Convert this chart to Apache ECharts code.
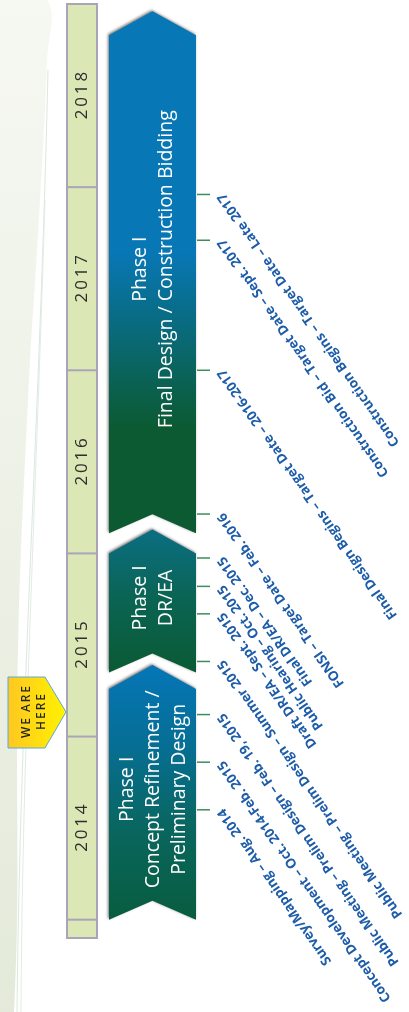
<!DOCTYPE html>
<html><head><meta charset="utf-8">
<script src="https://cdn.jsdelivr.net/npm/echarts@6/dist/echarts.min.js"></script>
<style>html,body{margin:0;padding:0;background:#fff}#c{width:409px;height:1012px}</style>
</head><body><div id="c"></div>
<script>
// ---- data ----
const years = [2014, 2015, 2016, 2017, 2018];
const yearLabels = ['2014', '2015', '2016', '2017', '2018'];
const axisMin = 2013.9, axisMax = 2019;

const phaseNames = [
  'Phase I\nConcept Refinement /\nPreliminary Design',
  'Phase I\nDR/EA',
  'Phase I\nFinal Design / Construction Bidding'
];
const phaseStarts = [2014.0, 2015.35, 2016.11];
const phaseEnds = [2015.26, 2016.0, 2018.83];

const milestoneDates = [2014.60, 2014.86, 2015.12, 2015.41, 2015.67, 2015.82, 2015.975, 2016.215, 2017.0, 2017.71, 2017.96];
const milestoneLabels = [
  'Survey/Mapping – Aug. 2014',
  'Concept Development – Oct. 2014-Feb. 2015',
  'Public Meeting – Prelim Design – Feb. 19, 2015',
  'Public Meeting – Prelim Design – Summer 2015',
  'Draft DR/EA – Sept. 2015',
  'Public Hearing – Oct. 2015',
  'Final DR/EA – Dec. 2015',
  'FONSI – Target Date – Feb. 2016',
  'Final Design Begins – Target Date – 2016-2017',
  'Construction Bid – Target Date – Sept. 2017',
  'Construction Begins – Target Date – Late 2017'
];

const nowDate = 2015.134;
const nowLabel = 'WE ARE\nHERE';

// ---- layout / style ----
const COL_L = 67, COL_R = 97;
const PH_L = 109, PH_R = 196, TIP = 24, NOTCH = 19;
const phaseGradients = [
  [[0, '#0576b8'], [0.3, '#066f96'], [0.65, '#09665e'], [1, '#085d3e']],
  [[0, '#0b6e82'], [0.5, '#0a6452'], [1, '#0a5a34']],
  [[0, '#0877b6'], [0.46, '#0877b6'], [0.8, '#0b5a31'], [1, '#0b5a31']]
];

const chart = echarts.init(document.getElementById('c'), null, {renderer: 'canvas'});

function spaced(s) { return s.split('').join('\u2009'); }

const option = {
  animation: false,
  backgroundColor: '#ffffff',
  grid: {left: 0, right: 0, top: 4, bottom: 74},
  xAxis: {type: 'value', min: 0, max: 409, show: false},
  yAxis: {type: 'value', min: axisMin, max: axisMax, show: false},
  graphic: [
    {
      type: 'polygon', z: -10, silent: true,
      shape: {points: [[0,0],[47,0],[47,60],[40,200],[28,400],[18,650],[14,1012],[0,1012]], smooth: 0.4},
      style: {fill: new echarts.graphic.LinearGradient(0,0,0,1,[{offset:0,color:'#f6f8f2'},{offset:1,color:'#e4eada'}])}
    },
    {
      type: 'bezierCurve', z: -9, silent: true,
      shape: {x1: 48, y1: 70, cpx1: 40, cpy1: 420, cpx2: 20, cpy2: 700, x2: 17, y2: 1012},
      style: {stroke: '#dce8de', lineWidth: 1, fill: null}
    },
    {
      type: 'bezierCurve', z: -9, silent: true,
      shape: {x1: 45, y1: 200, cpx1: 36, cpy1: 500, cpx2: 22, cpy2: 760, x2: 21, y2: 1012},
      style: {stroke: '#e2ece3', lineWidth: 1, fill: null}
    }
  ],
  series: [
    {
      type: 'custom', name: 'years', z: 1,
      data: years.map(y => [y]),
      renderItem: function (params, api) {
        const y = api.value(0);
        const children = [];
        if (params.dataIndex === 0) {
          const top = api.coord([COL_L, axisMax]);
          const bot = api.coord([COL_R, axisMin]);
          children.push({
            type: 'rect',
            shape: {x: top[0], y: top[1], width: bot[0] - top[0], height: bot[1] - top[1]},
            style: {fill: '#dbe7b5', stroke: '#aaa4bb', lineWidth: 2}
          });
        }
        const a = api.coord([COL_L, y]);
        const b = api.coord([COL_R, y]);
        children.push({type: 'line', shape: {x1: a[0], y1: a[1], x2: b[0], y2: b[1]}, style: {stroke: '#aaa4bb', lineWidth: 2}});
        const m = api.coord([(COL_L + COL_R) / 2, y + 0.5]);
        children.push({
          type: 'text', x: m[0], y: m[1], rotation: Math.PI / 2,
          style: {text: spaced(yearLabels[params.dataIndex]), align: 'center', verticalAlign: 'middle',
            fill: '#2e2e2e', font: '17px "Open Sans"'}
        });
        return {type: 'group', children: children};
      }
    },
    {
      type: 'custom', name: 'phases', z: 2,
      data: phaseStarts.map((s, i) => [s, phaseEnds[i]]),
      renderItem: function (params, api) {
        const i = params.dataIndex;
        const s = api.coord([PH_L, api.value(0)]);
        const e = api.coord([PH_R, api.value(1)]);
        const x0 = s[0], x1 = e[0], cx = (x0 + x1) / 2;
        const ys = s[1], ye = e[1];
        const pts = [[x0, ys], [cx, ys - NOTCH], [x1, ys], [x1, ye], [cx, ye - TIP], [x0, ye]];
        const stops = phaseGradients[i].map(st => ({offset: st[0], color: st[1]}));
        return {
          type: 'group',
          children: [
            {
              type: 'polygon', shape: {points: pts},
              style: {fill: new echarts.graphic.LinearGradient(0, 0, 0, 1, stops),
                shadowColor: 'rgba(0,0,0,0.55)', shadowBlur: 3, shadowOffsetX: -1, shadowOffsetY: -1}
            },
            {
              type: 'text', x: cx + 1, y: (ys + ye - TIP) / 2 - 3, rotation: Math.PI / 2,
              style: {text: phaseNames[i], align: 'center', verticalAlign: 'middle',
                fill: '#ffffff', font: '500 19.5px "Open Sans"', lineHeight: 26}
            }
          ]
        };
      }
    },
    {
      type: 'custom', name: 'milestones', z: 3,
      data: milestoneDates.map(d => [d]),
      renderItem: function (params, api) {
        const a = api.coord([197, api.value(0)]);
        const b = api.coord([210, api.value(0)]);
        return {
          type: 'group',
          children: [
            {type: 'line', shape: {x1: a[0], y1: a[1], x2: b[0], y2: b[1]}, style: {stroke: '#3a8f5c', lineWidth: 1.5}},
            {
              type: 'text', x: b[0] + 11, y: b[1], rotation: 125 * Math.PI / 180,
              style: {text: milestoneLabels[params.dataIndex], align: 'right', verticalAlign: 'middle',
                fill: '#1c5ca9', font: 'bold 13.5px "Open Sans"'}
            }
          ]
        };
      }
    },
    {
      type: 'custom', name: 'now', z: 4,
      data: [[nowDate]],
      renderItem: function (params, api) {
        const p = api.coord([66, api.value(0)]);
        const tipX = p[0], y = p[1];
        const pts = [[8, y - 35], [45, y - 35], [tipX, y], [45, y + 36], [8, y + 36]];
        return {
          type: 'group',
          children: [
            {
              type: 'polygon', shape: {points: pts},
              style: {fill: new echarts.graphic.LinearGradient(0, 0, 1, 0, [{offset: 0, color: '#ffc722'}, {offset: 1, color: '#fff200'}]),
                stroke: '#5ba8d8', lineWidth: 1}
            },
            {
              type: 'text', x: 34, y: y, rotation: Math.PI / 2,
              style: {text: 'W\u2009E\u2002A\u2009R\u2009E\nH\u2009E\u2009R\u2009E', align: 'center', verticalAlign: 'middle',
                fill: '#222222', font: '500 12px "Noto Sans"', lineHeight: 15}
            }
          ]
        };
      }
    }
  ]
};
chart.setOption(option);
</script>
</body></html>
